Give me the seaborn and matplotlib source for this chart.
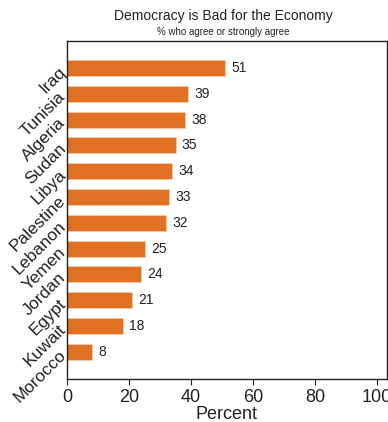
import pandas as pd
import matplotlib
matplotlib.use("Agg")
import matplotlib.pyplot as plt
import seaborn as sns

# Data
countries = ["Iraq", "Tunisia", "Algeria", "Sudan", "Libya", "Palestine",
             "Lebanon", "Yemen", "Jordan", "Egypt", "Kuwait", "Morocco"]
percent = [51, 39, 38, 35, 34, 33, 32, 25, 24, 21, 18, 8]

sns.set_theme(style="white")
plt.rcParams['font.family'] = ['Liberation Sans', 'DejaVu Sans']

df = pd.DataFrame({"country": countries, "percent": percent})

fig = plt.figure(figsize=(3.88, 4.22), dpi=100)
ax = fig.add_axes([0.173, 0.102, 0.824, 0.801])

sns.barplot(data=df, x="percent", y="country", orient="h", color="#E07022",
            saturation=1, width=0.62, edgecolor="#F6C9A8", linewidth=0.6, ax=ax)

for i, v in enumerate(percent):
    ax.text(v + 2, i, str(v), va="center", ha="left", fontsize=10, color="#222222")

ax.set_xlim(0, 103.2)
ax.set_ylim(len(countries) - 1 + 1.05, -1.05)
ax.set_xticks([0, 20, 40, 60, 80, 100])
ax.tick_params(axis="x", labelsize=13, length=4, width=0.8, direction="out", colors="#222222", bottom=True)
ax.tick_params(axis="y", labelsize=12.5, length=0, colors="#222222")
plt.setp(ax.get_yticklabels(), rotation=45, ha="right", rotation_mode="anchor")
ax.set_xlabel("Percent", fontsize=13, color="#222222", labelpad=0)
ax.set_ylabel("")

for s in ax.spines.values():
    s.set_visible(True)
    s.set_color("#222222")
    s.set_linewidth(1.0)

fig.text(0.575, 0.962, "Democracy is Bad for the Economy", ha="center", va="center", fontsize=10, color="#222222")
fig.text(0.575, 0.925, "% who agree or strongly agree", ha="center", va="center", fontsize=7, color="#222222")

fig.savefig("out.png", dpi=100)
